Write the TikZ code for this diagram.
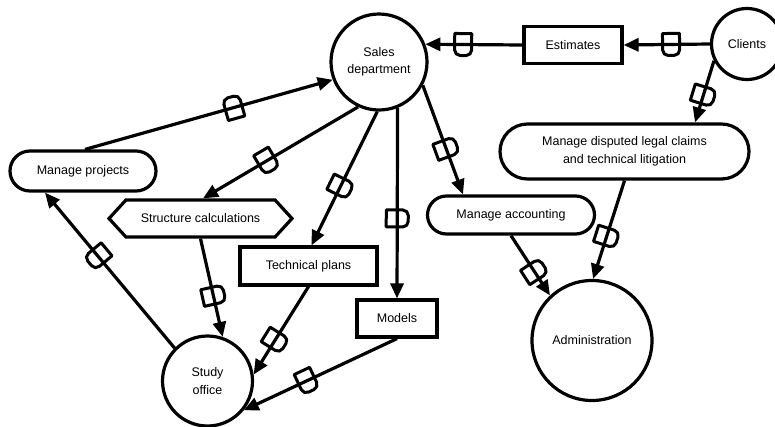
\documentclass[tikz,border=0pt]{standalone}
\usepackage{fontspec}
\setmainfont{Liberation Sans}
\usetikzlibrary{arrows.meta,shapes.geometric,shapes.misc,shapes.symbols,calc}

\tikzset{
  txt/.style={font=\fontsize{12.5}{17.5}\selectfont, align=center, inner sep=0pt},
  ent/.style={txt, draw, circle, line width=3.2pt},
  store/.style={txt, draw, rectangle, line width=3.2pt},
  proc/.style={txt, draw, rounded rectangle, line width=3.2pt},
  calcbox/.style={txt, draw, signal, signal to=west and east, signal pointer angle=95, line width=3.2pt},
  flow/.style={line width=3.2pt, -{Triangle[length=15pt,width=13pt]}},
  pics/flowmark/.style={code={
    \draw[-, line width=3pt, line join=round]
      (-8.5,-11) -- (8.5,-11) -- (8.5,5.5) arc[start angle=0,end angle=90,radius=5.5]
      -- (-3,11) arc[start angle=90,end angle=180,radius=5.5]
      -- cycle;
  }},
  mk/.style={pos=#1, sloped, allow upside down},
  mk/.default=0.58
}

\begin{document}
\begin{tikzpicture}[x=1pt,y=1pt]
  \useasboundingbox (0,0) rectangle (775,-426);
  \clip (0,0) rectangle (775,-426);

  % entities
  \node[ent, minimum size=96] (sales) at (379,-62) {Sales\\department};
  \node[ent, minimum size=71] (clients) at (747,-44) {Clients};
  \node[ent, minimum size=120] (admin) at (592,-340.5) {Administration};
  \node[ent, minimum size=90] (study) at (207.5,-381) {Study\\office};

  % data stores
  \node[store, minimum width=98, minimum height=37] (estimates) at (573,-45) {Estimates};
  \node[store, minimum width=137, minimum height=38] (techplans) at (308.5,-266) {Technical plans};
  \node[store, minimum width=80, minimum height=37] (models) at (397,-318.5) {Models};

  % processes
  \node[proc, minimum width=146, minimum height=40] (projects) at (83,-171) {Manage projects};
  \node[proc, minimum width=167, minimum height=38] (accounting) at (511,-215) {Manage accounting};
  \node[proc, minimum width=249, minimum height=55] (disputed) at (624.5,-151.5) {Manage disputed legal claims\\and technical litigation};
  \node[calcbox, minimum width=183, minimum height=37] (structcalc) at (200.5,-218.5) {Structure calculations};

  % flows
  \draw[flow] (estimates.west) -- (sales.21) pic[mk=0.61]{flowmark};
  \draw[flow] (clients.180) -- (estimates.east) pic[mk=0.45]{flowmark};
  \draw[flow] (clients.207) -- ($(disputed.north)+(70.5,0)$) pic[mk=0.56]{flowmark};
  \draw[flow] (disputed.south) -- (admin.89) pic[mk=0.57]{flowmark};
  \draw[flow] (accounting.south) -- (admin.133) pic[mk=0.6]{flowmark};
  \draw[flow] (sales.-28) -- ($(accounting.north)+(-48,0)$) pic[mk]{flowmark};
  \draw[flow] (sales.-68) -- (models.north) pic[mk]{flowmark};
  \draw[flow] (sales.-92) -- ($(techplans.north)+(3,0)$) pic[mk=0.56]{flowmark};
  \draw[flow] (sales.-115) -- ($(structcalc.north)+(2.5,0)$) pic[mk=0.59]{flowmark};
  \draw[flow] ($(projects.north)+(2,0)$) -- (sales.201) pic[mk=0.6]{flowmark};
  \draw[flow] (study.135) -- ($(projects.south)+(-38,0)$) pic[mk=0.59]{flowmark};
  \draw[flow] (structcalc.south) -- (study.71) pic[mk]{flowmark};
  \draw[flow] (techplans.south) -- (study.8) pic[mk=0.61]{flowmark};
  \draw[flow] (models.south) -- (study.-39) pic[mk=0.59]{flowmark};
\end{tikzpicture}
\end{document}
